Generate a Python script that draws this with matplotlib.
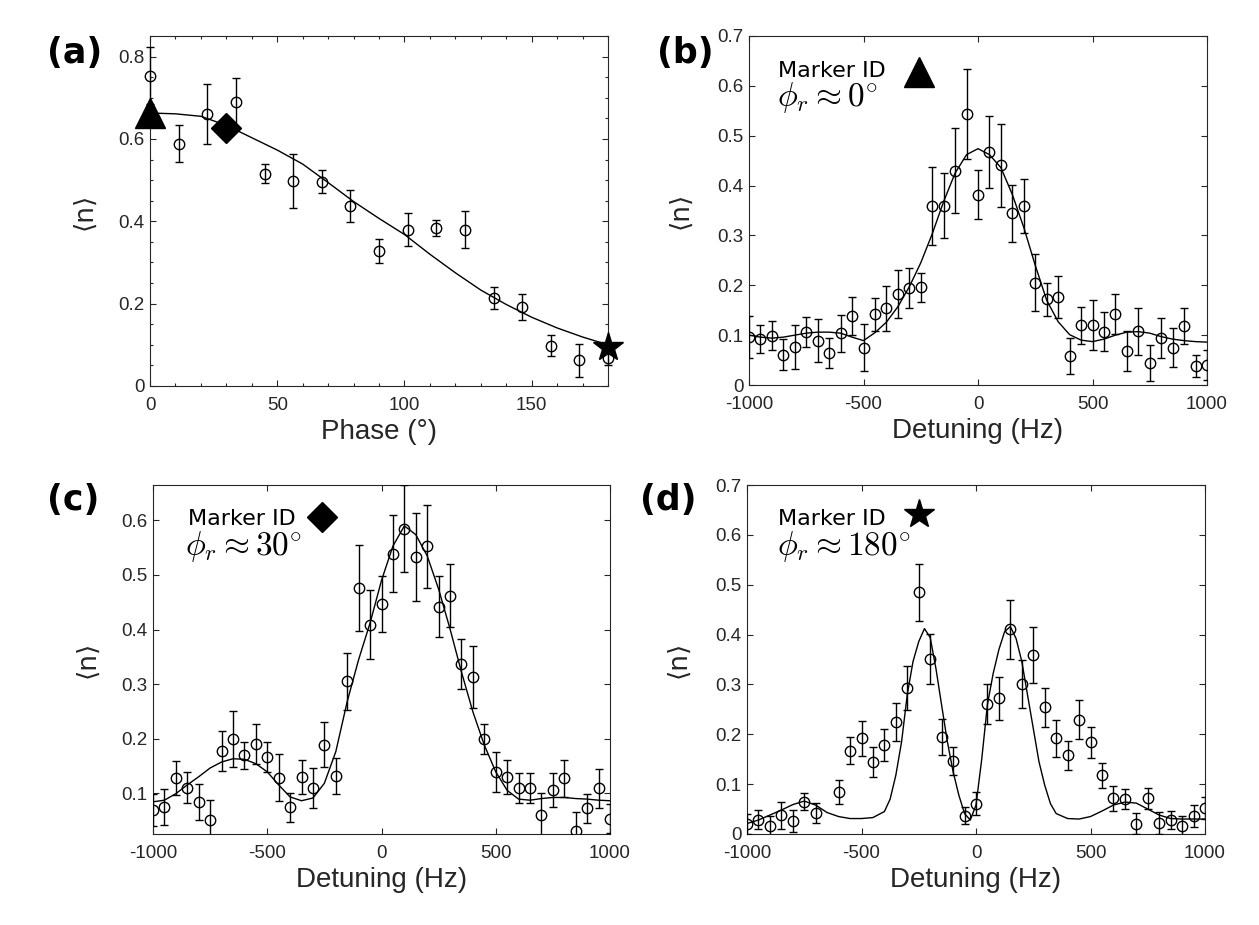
import numpy as np
import matplotlib
matplotlib.use("Agg")
import matplotlib.pyplot as plt
from matplotlib.ticker import MultipleLocator

plt.rcParams['font.family'] = ['Liberation Sans', 'DejaVu Sans']
plt.rcParams['mathtext.fontset'] = 'cm'
plt.rcParams['axes.unicode_minus'] = False

# ---- panel (a): <n> vs phase ----
phase = [0, 11.25, 22.5, 33.75, 45, 56.25, 67.5, 78.75, 90, 101.25,
         112.5, 123.75, 135, 146.25, 157.5, 168.75, 180]
n_a = [0.754, 0.588, 0.661, 0.689, 0.516, 0.498, 0.496, 0.437, 0.328, 0.379,
       0.384, 0.380, 0.214, 0.192, 0.098, 0.063, 0.068]
err_a = [0.07, 0.045, 0.073, 0.059, 0.023, 0.065, 0.028, 0.039, 0.03, 0.04,
         0.02, 0.046, 0.026, 0.032, 0.025, 0.04, 0.018]
fit_a_x = [0, 10, 20, 30, 40, 50, 60, 70, 80, 90, 100, 110, 120, 130, 140,
           150, 160, 170, 180]
fit_a_y = [0.663, 0.661, 0.655, 0.633, 0.603, 0.573, 0.539, 0.494, 0.448,
           0.407, 0.368, 0.320, 0.275, 0.233, 0.198, 0.167, 0.141, 0.119, 0.100]
id_phase = [0, 30, 180]
id_n = [0.663, 0.627, 0.095]

# ---- detuning scans ----
det = list(range(-1000, 1001, 50))

n_b = [0.097, 0.092, 0.099, 0.061, 0.077, 0.107, 0.089, 0.065, 0.104, 0.138,
       0.075, 0.142, 0.154, 0.182, 0.195, 0.196, 0.359, 0.360, 0.430, 0.544,
       0.382, 0.467, 0.441, 0.344, 0.359, 0.205, 0.172, 0.177, 0.058, 0.120,
       0.120, 0.107, 0.142, 0.069, 0.108, 0.045, 0.094, 0.075, 0.119, 0.039,
       0.040]
err_b = [0.042, 0.028, 0.029, 0.031, 0.044, 0.030, 0.043, 0.030, 0.037, 0.038,
         0.047, 0.033, 0.045, 0.048, 0.040, 0.029, 0.078, 0.066, 0.085, 0.090,
         0.050, 0.072, 0.083, 0.057, 0.055, 0.057, 0.033, 0.042, 0.036, 0.037,
         0.050, 0.039, 0.040, 0.040, 0.047, 0.036, 0.040, 0.039, 0.036, 0.022,
         0.030]
fit_b = [0.100, 0.096, 0.094, 0.096, 0.100, 0.104, 0.106, 0.106, 0.104, 0.096,
         0.089, 0.105, 0.126, 0.157, 0.197, 0.245, 0.303, 0.368, 0.425, 0.462,
         0.474, 0.462, 0.436, 0.382, 0.316, 0.240, 0.170, 0.127, 0.101, 0.090,
         0.087, 0.092, 0.100, 0.106, 0.107, 0.104, 0.097, 0.092, 0.089, 0.087,
         0.086]

n_c = [0.069, 0.074, 0.128, 0.110, 0.083, 0.051, 0.177, 0.199, 0.169, 0.190,
       0.166, 0.128, 0.074, 0.129, 0.109, 0.189, 0.132, 0.305, 0.476, 0.409,
       0.447, 0.539, 0.585, 0.533, 0.553, 0.442, 0.462, 0.336, 0.313, 0.199,
       0.139, 0.129, 0.109, 0.109, 0.059, 0.106, 0.127, 0.031, 0.072, 0.109,
       0.053]
err_c = [0.030, 0.033, 0.031, 0.029, 0.033, 0.036, 0.037, 0.051, 0.024, 0.036,
         0.028, 0.043, 0.027, 0.031, 0.037, 0.042, 0.033, 0.052, 0.079, 0.063,
         0.052, 0.071, 0.080, 0.080, 0.076, 0.056, 0.058, 0.046, 0.057, 0.027,
         0.037, 0.031, 0.027, 0.027, 0.042, 0.031, 0.034, 0.034, 0.027, 0.036,
         0.027]
fit_c = [0.084, 0.087, 0.099, 0.115, 0.130, 0.146, 0.157, 0.163, 0.162, 0.154,
         0.139, 0.115, 0.093, 0.086, 0.091, 0.118, 0.176, 0.268, 0.345, 0.412,
         0.490, 0.553, 0.590, 0.574, 0.535, 0.474, 0.401, 0.322, 0.249, 0.188,
         0.139, 0.105, 0.089, 0.087, 0.090, 0.092, 0.092, 0.090, 0.089, 0.087,
         0.086]

det_d = [-1000, -950, -900, -850, -800, -750, -700, -600, -550, -500, -450,
         -400, -350, -300, -250, -200, -150, -100, -50, 0, 50, 100, 150, 200,
         250, 300, 350, 400, 450, 500, 550, 600, 650, 700, 750, 800, 850, 900,
         950, 1000]
n_d = [0.020, 0.029, 0.016, 0.038, 0.026, 0.065, 0.043, 0.084, 0.167, 0.192,
       0.144, 0.178, 0.224, 0.293, 0.485, 0.351, 0.195, 0.146, 0.037, 0.061,
       0.260, 0.272, 0.411, 0.300, 0.359, 0.254, 0.192, 0.158, 0.229, 0.184,
       0.118, 0.072, 0.070, 0.021, 0.072, 0.023, 0.028, 0.017, 0.036, 0.053]
err_d = [0.020, 0.019, 0.020, 0.027, 0.022, 0.017, 0.020, 0.024, 0.027, 0.035,
         0.030, 0.032, 0.038, 0.044, 0.057, 0.050, 0.036, 0.028, 0.017, 0.023,
         0.040, 0.043, 0.059, 0.048, 0.056, 0.039, 0.037, 0.029, 0.039, 0.031,
         0.025, 0.025, 0.020, 0.021, 0.021, 0.022, 0.018, 0.019, 0.022, 0.022]
fit_d_x = [-1000, -950, -900, -850, -800, -750, -700, -650, -600, -550, -500,
           -450, -400, -375, -350, -325, -300, -275, -250, -225, -200, -175,
           -150, -125, -100, -75, -50, -25, 0, 25, 50, 75, 100, 125, 150, 175,
           200, 225, 250, 275, 300, 325, 350, 400, 450, 500, 550, 600, 650,
           700, 750, 800, 850, 900, 950, 1000]
fit_d_y = [0.021, 0.028, 0.038, 0.048, 0.059, 0.066, 0.058, 0.043, 0.035,
           0.031, 0.031, 0.033, 0.045, 0.070, 0.118, 0.185, 0.280, 0.346,
           0.386, 0.412, 0.394, 0.332, 0.258, 0.185, 0.125, 0.078, 0.041,
           0.028, 0.058, 0.150, 0.260, 0.322, 0.370, 0.406, 0.416, 0.392,
           0.346, 0.279, 0.212, 0.145, 0.098, 0.061, 0.041, 0.031, 0.030,
           0.035, 0.046, 0.058, 0.064, 0.062, 0.050, 0.038, 0.031, 0.030,
           0.030, 0.030]

W, H = 1259, 925
fig = plt.figure(figsize=(W / 100, H / 100), dpi=100)

def box(l, t, r, b):
    return [l / W, (H - b) / H, (r - l) / W, (b - t) / H]

ax_a = fig.add_axes(box(150, 36, 608, 386))
ax_b = fig.add_axes(box(749, 36, 1207, 385))
ax_c = fig.add_axes(box(153, 485, 610, 834))
ax_d = fig.add_axes(box(747, 485, 1205, 834))

dark = '#262626'

def style(ax):
    for s in ax.spines.values():
        s.set_color(dark)
        s.set_linewidth(0.8)
    ax.tick_params(which='both', direction='in', top=True, right=True,
                   colors=dark, labelsize=13.5, width=0.8)
    ax.tick_params(which='major', length=4.5)
    ax.tick_params(which='minor', length=2.5)
    ax.tick_params(axis='x', pad=8)
    ax.tick_params(axis='y', pad=4)

def data(ax, x, y, e, clip=True):
    ax.errorbar(x, y, yerr=e, fmt='o', mfc='none', mec='black', ms=7.5,
                mew=1.0, ecolor='black', elinewidth=1.0, capsize=2.8,
                capthick=1.0, clip_on=clip, zorder=3)

# (a)
style(ax_a)
ax_a.plot(fit_a_x, fit_a_y, color='black', lw=1.0, zorder=2)
data(ax_a, phase, n_a, err_a, clip=False)
ax_a.plot(id_phase[0], id_n[0], '^', color='black', ms=21, clip_on=False, zorder=4)
ax_a.plot(id_phase[1], id_n[1], 'D', color='black', ms=15, clip_on=False, zorder=4)
ax_a.plot(id_phase[2], id_n[2], '*', color='black', ms=22, clip_on=False, zorder=4)
ax_a.set_xlim(0, 180)
ax_a.set_ylim(0, 0.85)
ax_a.set_xticks([0, 50, 100, 150])
ax_a.set_yticks([0, 0.2, 0.4, 0.6, 0.8])
ax_a.set_yticklabels(['0', '0.2', '0.4', '0.6', '0.8'])
ax_a.xaxis.set_minor_locator(MultipleLocator(10))
ax_a.yaxis.set_minor_locator(MultipleLocator(0.05))
ax_a.set_xlabel('Phase (°)', fontsize=20, color=dark)

# (b), (c), (d)
panels = [
    (ax_b, det, n_b, err_b, det, fit_b, (0, 0.7), '^', 21, r'$\phi_r \approx 0^{\circ}$',
     (0.063, 0.883), (0.371, 0.897), (0.061, 0.80)),
    (ax_c, det, n_c, err_c, det, fit_c, (0.025, 0.665), 'D', 15, r'$\phi_r \approx 30^{\circ}$',
     (0.076, 0.885), (0.369, 0.909), (0.070, 0.80)),
    (ax_d, det_d, n_d, err_d, fit_d_x, fit_d_y, (0, 0.7), '*', 22, r'$\phi_r \approx 180^{\circ}$',
     (0.068, 0.885), (0.376, 0.917), (0.066, 0.80)),
]
yt = np.arange(0, 0.71, 0.1)
for ax, x, y, e, fx, fy, yl, mk, ms, phi, p_txt, p_mk, p_phi in panels:
    style(ax)
    ax.plot(fx, fy, color='black', lw=1.0, zorder=2)
    data(ax, x, y, e)
    ax.set_xlim(-1000, 1000)
    ax.set_xticks([-1000, -500, 0, 500, 1000])
    ax.set_yticks(yt)
    ax.set_yticklabels(['0' if v == 0 else f'{v:.1f}' for v in yt])
    ax.set_ylim(*yl)
    ax.set_xlabel('Detuning (Hz)', fontsize=20, color=dark)
    ax.text(p_txt[0], p_txt[1], 'Marker ID', transform=ax.transAxes,
            fontsize=16, family='DejaVu Sans', va='baseline', ha='left')
    ax.plot(p_mk[0], p_mk[1], mk, color='black', ms=ms, transform=ax.transAxes,
            clip_on=False)
    ax.text(p_phi[0], p_phi[1], phi, transform=ax.transAxes, fontsize=24,
            va='baseline', ha='left')

for ax, dx in [(ax_a, -53), (ax_b, -56), (ax_c, -53), (ax_d, -56)]:
    ax.set_ylabel('⟨n⟩', fontsize=19, family='DejaVu Sans', color=dark)
    ax.yaxis.set_label_coords(dx / 458, 0.5)
    ax.xaxis.set_label_coords(0.5, -0.095)

for lab, x, y in [('(a)', 47, 53), ('(b)', 657, 53), ('(c)', 47, 500), ('(d)', 640, 500)]:
    fig.text(x / W, 1 - y / H, lab, fontsize=25, fontweight='bold',
             family='DejaVu Sans', va='center', ha='left')

fig.savefig('out.png', dpi=100)
